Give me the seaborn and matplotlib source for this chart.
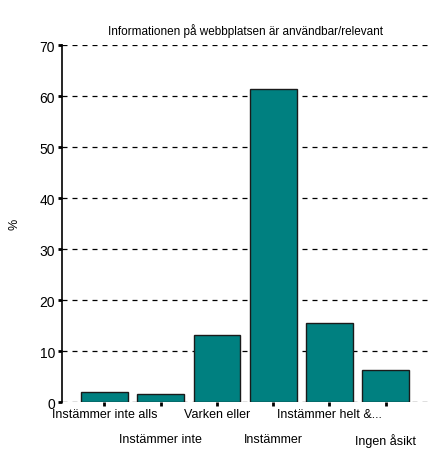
import matplotlib
matplotlib.use("Agg")
import matplotlib.pyplot as plt
import seaborn as sns
import pandas as pd

# ------------------ Data ------------------
categories = ["Instämmer inte alls", "Instämmer inte", "Varken eller",
              "Instämmer", "Instämmer helt &...", "Ingen åsikt"]
percent = [1.9, 1.7, 13.1, 61.4, 15.5, 6.3]
y_ticks = [0, 10, 20, 30, 40, 50, 60, 70]
title = "Informationen på webbplatsen är användbar/relevant"

df = pd.DataFrame({"category": categories, "percent": percent})

# ------------------ Plot ------------------
sns.set_style("white", {"text.color": "black", "axes.labelcolor": "black",
                        "xtick.color": "black", "ytick.color": "black"})
plt.rcParams['font.family'] = ['Liberation Sans', 'DejaVu Sans']

fig = plt.figure(figsize=(4.28, 4.52), dpi=100)
ax = fig.add_axes([0.145, 0.108, 0.855, 0.79])

sns.barplot(data=df, x="category", y="percent", color="#008080",
            saturation=1, width=0.83, edgecolor="#1a1a1a", linewidth=1,
            ax=ax, zorder=3)

ax.set_ylim(0, 70)
ax.set_xlim(-0.75, 5.75)
ax.set_yticks(y_ticks)
ax.set_yticklabels([str(t) for t in y_ticks], fontsize=10)
for t in y_ticks:
    ax.axhline(t, color="black", linestyle=(0, (4, 4)), linewidth=0.9, zorder=1)

# staggered category labels (two rows)
ax.set_xticks(range(len(categories)))
ax.set_xticklabels([])
for i, lab in enumerate(categories):
    ax.annotate(lab, xy=(i, 0), xycoords=("data", "axes fraction"),
                xytext=(0, -4.5 if i % 2 == 0 else -22.5), textcoords="offset points",
                ha="center", va="top", fontsize=9, color="black")

for s in ["top", "right", "bottom"]:
    ax.spines[s].set_visible(False)
ax.spines["left"].set_color("black")
ax.spines["left"].set_linewidth(1.2)

ax.tick_params(axis="y", left=True, length=3, width=2, color="black", pad=2)
ax.tick_params(axis="x", bottom=True, length=3, width=2, color="black")

ax.set_xlabel("")
ax.set_ylabel("%", fontsize=9, labelpad=14, color="black")
ax.set_title(title, fontsize=8.5, pad=8, color="black")

plt.savefig("out.png", dpi=100)
